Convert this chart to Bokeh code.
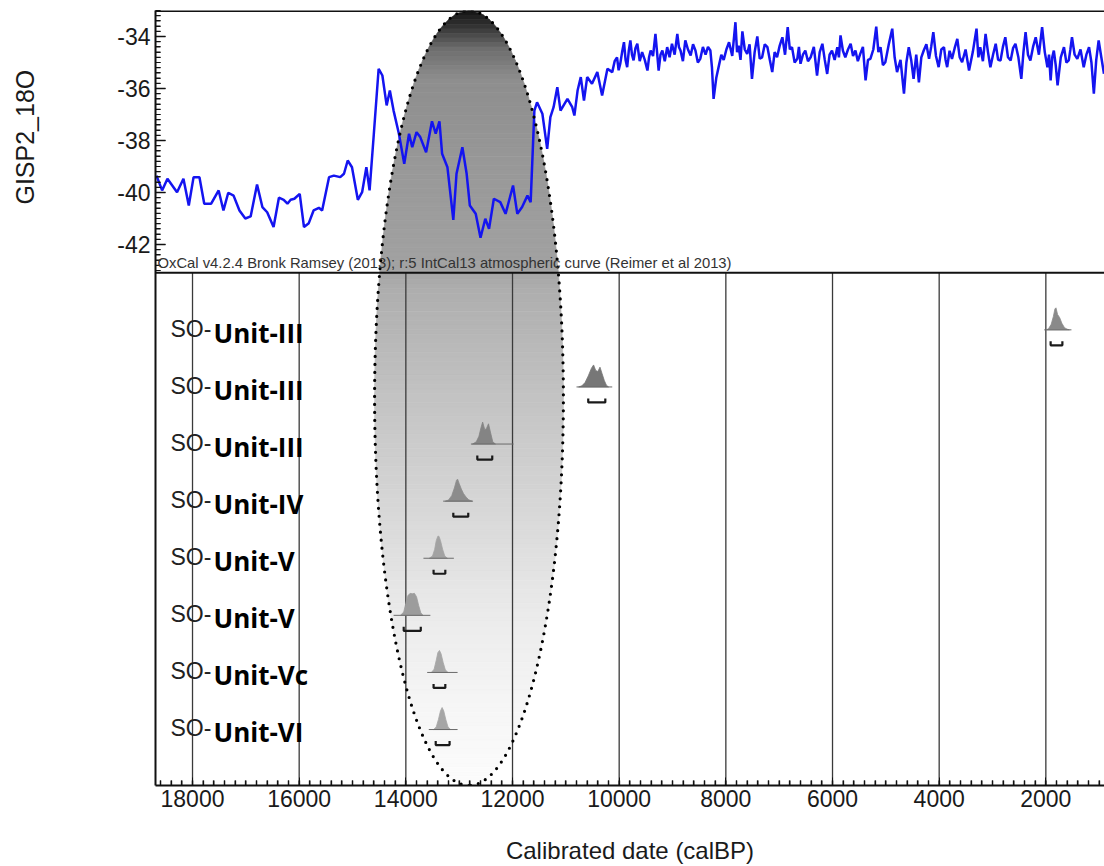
import numpy as np
from bokeh.plotting import figure
from bokeh.layouts import row
from bokeh.models import Range1d, LinearAxis, FixedTicker, Span, Label
from bokeh.core.properties import value
from bokeh.embed import file_html
from bokeh.resources import INLINE

# ---------------- data ----------------
gisp_age = [
    18675, 18570, 18470, 18290, 18170, 18070, 17980, 17870, 17780, 17650,
    17510, 17420, 17330, 17230, 17120, 17010, 16910, 16790, 16690, 16600,
    16480, 16380, 16290, 16220, 16160, 16090, 15990, 15910, 15820, 15730,
    15630, 15570, 15440, 15350, 15230, 15160, 15090, 15010, 14900, 14820,
    14740, 14680, 14600, 14510, 14440, 14360, 14300, 14230, 14130, 14030,
    13940, 13880, 13800, 13730, 13620, 13510, 13440, 13370, 13320, 13220,
    13110, 13050, 12940, 12860, 12800, 12690, 12600, 12510, 12440, 12350,
    12230, 12130, 11990, 11910, 11820, 11720, 11660, 11590, 11540, 11440,
    11350, 11290, 11230, 11160, 11100, 10970, 10880, 10840, 10780, 10720,
    10660, 10600, 10510, 10410, 10320, 10220,
    10130, 10085, 10040, 10010, 9980, 9945, 9910, 9880, 9850, 9820,
    9790, 9760, 9730, 9695, 9660, 9615, 9570, 9520, 9470, 9440,
    9410, 9365, 9320, 9290, 9260, 9225, 9190, 9145, 9100, 9055,
    9010, 8960, 8910, 8880, 8850, 8805, 8760, 8710, 8660, 8615,
    8570, 8525, 8480, 8430, 8380, 8335, 8290, 8260, 8230, 8180,
    8130, 8085, 8040, 7990, 7940, 7880, 7820, 7790, 7760, 7725,
    7690, 7645, 7600, 7555, 7510, 7460, 7410, 7365, 7320, 7270,
    7220, 7175, 7130, 7085, 7040, 6990, 6940, 6890, 6840, 6800,
    6760, 6710, 6660, 6630, 6600, 6555, 6510, 6460, 6410, 6350,
    6290, 6240, 6190, 6145, 6100, 6055, 6010, 5960, 5910, 5880,
    5850, 5805, 5760, 5710, 5660, 5615, 5570, 5525, 5480, 5430,
    5380, 5335, 5290, 5235, 5180, 5140, 5100, 5055, 5010, 4945,
    4880, 4835, 4790, 4725, 4660, 4615, 4570, 4525, 4480, 4430,
    4380, 4335, 4290, 4240, 4190, 4150, 4110, 4060, 4010, 3960,
    3910, 3880, 3850, 3805, 3760, 3710, 3660, 3615, 3570, 3505,
    3440, 3370, 3300, 3265, 3230, 3180, 3130, 3085, 3040, 2990,
    2940, 2895, 2850, 2805, 2760, 2710, 2660, 2615, 2570, 2515,
    2460, 2420, 2380, 2335, 2290, 2240, 2190, 2130, 2070, 2020,
    1970, 1940, 1910, 1880, 1850, 1815, 1780, 1720, 1660, 1615,
    1570, 1540, 1510, 1460, 1410, 1350, 1290, 1240, 1190, 1145,
    1100, 1055, 1010, 960, 910,
]
gisp_d18o = [
    -39.35, -39.92, -39.47, -39.99, -39.47, -40.50, -39.41, -39.41, -40.43, -40.43,
    -39.92, -40.69, -40.01, -40.12, -40.69, -41.00, -40.92, -39.69, -40.56, -40.76,
    -41.33, -40.20, -40.28, -40.43, -40.28, -40.24, -40.05, -41.33, -41.18, -40.69,
    -40.59, -40.69, -39.41, -39.35, -39.41, -39.28, -38.77, -39.03, -40.28, -39.99,
    -39.03, -39.92, -37.74, -35.24, -35.50, -36.65, -36.08, -36.85, -37.74, -38.90,
    -37.74, -38.26, -37.68, -37.87, -38.45, -37.26, -37.74, -37.26, -38.51, -39.03,
    -41.05, -39.28, -38.26, -39.28, -40.50, -40.82, -41.74, -41.01, -41.40, -40.24,
    -40.37, -40.82, -39.73, -40.82, -40.56, -40.12, -40.37, -36.85, -36.53, -36.97,
    -38.32, -37.10, -36.72, -35.95, -36.85, -36.40, -36.72, -37.04, -36.08, -35.56,
    -36.46, -35.56, -35.82, -35.37, -36.27, -35.24,
    -35.37, -34.95, -34.80, -35.30, -35.05, -34.60, -34.22, -34.90, -35.18, -34.55,
    -34.15, -34.70, -34.92, -34.45, -34.28, -34.95, -34.60, -34.90, -35.31, -34.80,
    -34.54, -34.75, -33.90, -34.60, -35.31, -34.70, -34.54, -34.95, -34.41, -34.80,
    -34.28, -34.70, -33.90, -34.40, -34.54, -34.95, -34.15, -34.50, -34.73, -34.30,
    -34.54, -35.00, -34.86, -34.40, -34.70, -34.40, -34.54, -35.20, -36.40, -35.60,
    -35.12, -34.70, -34.90, -34.50, -34.22, -34.75, -33.45, -34.60, -34.35, -34.90,
    -33.80, -34.50, -34.67, -34.30, -35.63, -34.60, -34.00, -34.85, -34.80, -34.30,
    -34.41, -34.90, -35.37, -34.60, -34.80, -34.35, -34.03, -34.70, -33.64, -34.50,
    -34.41, -35.00, -34.86, -34.40, -35.05, -34.70, -34.54, -34.95, -34.80, -34.40,
    -35.50, -34.60, -34.28, -34.90, -35.44, -34.70, -34.54, -34.90, -34.41, -34.80,
    -33.96, -34.55, -34.80, -34.50, -34.28, -34.75, -34.54, -34.95, -34.67, -34.40,
    -35.69, -34.90, -34.86, -34.50, -33.62, -34.60, -34.41, -35.10, -34.99, -34.30,
    -33.70, -34.80, -35.37, -34.90, -36.20, -35.00, -34.41, -34.90, -35.63, -34.70,
    -35.76, -34.80, -34.54, -34.30, -34.86, -34.40, -33.83, -34.75, -35.18, -34.50,
    -34.41, -34.90, -35.18, -34.55, -34.86, -34.45, -34.09, -34.80, -34.99, -34.50,
    -35.31, -34.60, -33.70, -34.80, -34.41, -34.95, -33.90, -34.60, -35.18, -34.70,
    -34.28, -34.90, -34.92, -34.40, -34.03, -34.80, -34.92, -34.45, -34.28, -34.80,
    -35.63, -34.60, -33.83, -34.70, -34.92, -34.40, -34.03, -34.70, -33.64, -34.60,
    -35.18, -34.70, -35.69, -34.80, -34.54, -35.10, -35.88, -34.80, -34.41, -35.00,
    -34.92, -34.50, -34.03, -34.70, -34.86, -34.50, -35.18, -34.70, -34.41, -35.00,
    -36.20, -34.90, -34.15, -34.80, -35.43,
]

sample_prefix = "SO-"
sample_units = ["Unit-III", "Unit-III", "Unit-III", "Unit-IV",
                "Unit-V", "Unit-V", "Unit-Vc", "Unit-VI"]

# calibrated probability distributions (cal BP, relative density)
dist_age = [
    [1990, 1950, 1900, 1860, 1830, 1810, 1780, 1740, 1700, 1650, 1600, 1560],
    [10760, 10700, 10640, 10580, 10520, 10480, 10440, 10400, 10360, 10320, 10280, 10240, 10200],
    [12750, 12680, 12630, 12590, 12560, 12520, 12490, 12450, 12410, 12370, 12320],
    [13260, 13200, 13140, 13090, 13050, 13030, 13000, 12960, 12920, 12870, 12820, 12760],
    [13560, 13500, 13460, 13430, 13400, 13380, 13350, 13310, 13270, 13220],
    [14100, 14040, 14000, 13960, 13920, 13880, 13840, 13800, 13760, 13720, 13680],
    [13520, 13470, 13430, 13400, 13370, 13340, 13300, 13260, 13210],
    [13480, 13430, 13390, 13350, 13320, 13290, 13250, 13210, 13160],
]
dist_dens = [
    [0, 0.05, 0.25, 0.6, 0.95, 1.0, 0.7, 0.55, 0.3, 0.1, 0.03, 0],
    [0, 0.05, 0.2, 0.5, 0.85, 1.0, 0.75, 0.7, 0.9, 0.6, 0.3, 0.08, 0],
    [0, 0.1, 0.35, 0.75, 1.0, 0.65, 0.7, 0.92, 0.5, 0.1, 0],
    [0, 0.05, 0.25, 0.6, 0.95, 1.0, 0.8, 0.55, 0.35, 0.18, 0.06, 0],
    [0, 0.1, 0.4, 0.8, 1.0, 1.0, 0.8, 0.4, 0.1, 0],
    [0, 0.15, 0.55, 0.9, 1.0, 0.98, 1.0, 0.85, 0.45, 0.12, 0],
    [0, 0.15, 0.55, 0.9, 1.0, 0.85, 0.45, 0.12, 0],
    [0, 0.12, 0.45, 0.85, 1.0, 0.85, 0.45, 0.12, 0],
]
# extent of the thin baseline under each distribution
dist_line_from = [2030, 10800, 12780, 13300, 13670, 14230, 13600, 13570]
dist_line_to = [1520, 10130, 11980, 12740, 13100, 13540, 13030, 13030]
# highest-density ranges (brackets)
range_from = [1910, 10580, 12660, 13110, 13480, 14040, 13480, 13440]
range_to = [1690, 10260, 12380, 12830, 13260, 13720, 13260, 13180]

x_major = [18000, 16000, 14000, 12000, 10000, 8000, 6000, 4000, 2000]
y_major = [-34, -36, -38, -40, -42]

# ---------------- layout ----------------
TOTAL_W, H = 1104, 866
LW = 48                      # strip holding the rotated y title
W = TOTAL_W - LW
FRAME_X0 = 155               # page x of frame left edge
BL, BT, BB = FRAME_X0 - LW, 10, 81
FW, FH = W - BL, H - BT - BB
X_LEFT = 18694.0
YR_PER_PX = 18.75
X_RIGHT = X_LEFT - FW * YR_PER_PX
ROW_PX = 57.1
Y_BOTTOM = -0.98
Y_TOP = Y_BOTTOM + FH / ROW_PX
G_TOP = -33.0
G_PX = 26.0
G_BOTTOM = G_TOP - FH / G_PX
SEP_Y = 8.0


def page_x_to_year(px):
    return X_LEFT - (px - FRAME_X0) * YR_PER_PX


FONT = "Liberation Sans"

p = figure(width=W, height=H, output_backend="svg", toolbar_location=None,
           x_range=Range1d(X_LEFT, X_RIGHT), y_range=Range1d(Y_BOTTOM, Y_TOP),
           x_axis_location=None, y_axis_location=None,
           min_border_left=BL, min_border_right=0, min_border_top=BT,
           min_border_bottom=BB)
p.extra_y_ranges = {"gisp": Range1d(G_BOTTOM, G_TOP)}
p.outline_line_color = None
p.xgrid.visible = False
p.ygrid.visible = False
p.background_fill_color = "white"
p.border_fill_color = "white"

# ---------- shaded ellipse (vertical grey gradient) ----------
ell_cx, ell_rx = 12816.0, 1770.0
ell_cy = (Y_TOP + Y_BOTTOM) / 2
ell_ry = (Y_TOP - Y_BOTTOM) / 2
stops_f = [0.0, 0.02, 0.05, 0.09, 0.2, 0.33, 0.36, 0.5, 0.65, 0.78, 0.9, 1.0]
stops_g = [20, 50, 110, 142, 152, 162, 174, 195, 216, 235, 246, 252]
nb = 170
edges = np.linspace(Y_TOP, Y_BOTTOM, nb + 1)


def half_w(y):
    return ell_rx * np.sqrt(np.clip(1 - ((y - ell_cy) / ell_ry) ** 2, 0, 1))


bx, by, bc = [], [], []
for i in range(nb):
    y1, y0 = edges[i], edges[i + 1] - 0.004
    w1, w0 = half_w(y1), half_w(y0)
    ym = (y0 + y1) / 2
    wm = half_w(ym)
    bx.append([ell_cx - w1, ell_cx - wm, ell_cx - w0, ell_cx + w0, ell_cx + wm, ell_cx + w1])
    by.append([y1, ym, y0, y0, ym, y1])
    f = (i + 0.5) / nb
    g = int(round(np.interp(f, stops_f, stops_g)))
    bc.append("#%02x%02x%02x" % (g, g, g))
p.patches(bx, by, fill_color=bc, line_color=bc, line_width=0.6)

# ---------- vertical grid lines of lower panel ----------
p.segment(x0=x_major, x1=x_major, y0=[Y_BOTTOM] * len(x_major), y1=[SEP_Y] * len(x_major),
          line_color="#3a3a3a", line_width=1.3)

# ---------- GISP2 curve ----------
p.line(gisp_age, gisp_d18o, y_range_name="gisp", line_color="#1414f0", line_width=2.5)

# ---------- distributions ----------
DH = 22.0 / ROW_PX
fills = ["#8a8a8a", "#777777", "#848484", "#8c8c8c", "#a2a2a2", "#9c9c9c", "#a6a6a6", "#a6a6a6"]
n_rows = len(sample_units)
for k in range(n_rows):
    base = (n_rows - 1) - k
    ages = dist_age[k]
    dens = dist_dens[k]
    p.patch(ages, [base + d * DH for d in dens], fill_color=fills[k], line_color=fills[k],
            line_width=0.8)
    p.line([dist_line_from[k], dist_line_to[k]], [base, base], line_color="#6a6a6a", line_width=1)
    yb = base - 15.5 / ROW_PX
    yt = yb + 4.0 / ROW_PX
    p.line([range_from[k], range_from[k], range_to[k], range_to[k]], [yt, yb, yb, yt],
           line_color="#1a1a1a", line_width=2.2)

# ---------- row labels ----------
rows_y = [(n_rows - 1) - k for k in range(n_rows)]
p.text(x=[page_x_to_year(170)] * n_rows, y=[r + 0.02 for r in rows_y], text=[sample_prefix] * n_rows,
       text_font=value(FONT), text_font_size="23px", text_color="#222222",
       text_align="left", text_baseline="middle")
p.text(x=[page_x_to_year(213)] * n_rows, y=[r - 0.05 for r in rows_y], text=sample_units,
       text_font=value("Open Sans"), text_font_size="26px", text_font_style="bold",
       text_color="#000000", text_align="left", text_baseline="middle")

# ---------- dotted ellipse outline ----------
t = np.linspace(-np.pi / 2, 1.5 * np.pi, 500)
p.line(ell_cx + ell_rx * np.cos(t), ell_cy + ell_ry * np.sin(t), line_color="#000000",
       line_width=3.2, line_dash="0 8", line_cap="round")

# ---------- frame lines ----------
p.add_layout(Span(location=Y_TOP, dimension="width", line_color="#111111", line_width=3))
p.add_layout(Span(location=SEP_Y, dimension="width", line_color="#111111", line_width=2))

# ---------- axes ----------
x_minor = list(range(18600, 800, -200))
xaxis = LinearAxis(ticker=FixedTicker(ticks=x_major, minor_ticks=x_minor),
                   axis_label="Calibrated date (calBP)")
xaxis.axis_line_width = 2
xaxis.axis_line_color = "#111111"
xaxis.major_tick_in = 8
xaxis.major_tick_out = 0
xaxis.minor_tick_in = 5
xaxis.minor_tick_out = 0
xaxis.major_tick_line_color = "#111111"
xaxis.minor_tick_line_color = "#111111"
xaxis.minor_tick_line_width = 1.3
xaxis.major_label_standoff = 4
xaxis.major_label_text_font = FONT
xaxis.major_label_text_font_size = "23px"
xaxis.major_label_text_color = "#1a1a1a"
xaxis.axis_label_text_font = FONT
xaxis.axis_label_text_font_size = "24px"
xaxis.axis_label_text_font_style = "normal"
xaxis.axis_label_text_color = "#1a1a1a"
xaxis.axis_label_standoff = 27
p.add_layout(xaxis, "below")

y_minor = [round(-33.0 - 0.2 * i, 1) for i in range(51)]
yaxis = LinearAxis(y_range_name="gisp", ticker=FixedTicker(ticks=y_major, minor_ticks=y_minor))
yaxis.major_label_overrides = {v: str(v) for v in y_major}
yaxis.axis_line_width = 2
yaxis.axis_line_color = "#111111"
yaxis.major_tick_in = 10
yaxis.major_tick_out = 0
yaxis.minor_tick_in = 5
yaxis.minor_tick_out = 0
yaxis.major_tick_line_color = "#111111"
yaxis.minor_tick_line_color = "#111111"
yaxis.minor_tick_line_width = 1.2
yaxis.major_label_standoff = 5
yaxis.major_label_text_font = FONT
yaxis.major_label_text_font_size = "23px"
yaxis.major_label_text_color = "#1a1a1a"
p.add_layout(yaxis, "left")

# inward tick marks drawn inside the frame (so they are always visible)
TICK = YR_PER_PX
p.segment(x0=[X_LEFT] * len(y_minor), x1=[X_LEFT - 5 * TICK] * len(y_minor),
          y0=y_minor, y1=y_minor, y_range_name="gisp", line_color="#111111", line_width=1.2)
p.segment(x0=[X_LEFT] * len(y_major), x1=[X_LEFT - 10 * TICK] * len(y_major),
          y0=y_major, y1=y_major, y_range_name="gisp", line_color="#111111", line_width=1.6)
p.segment(x0=x_minor, x1=x_minor, y0=[Y_BOTTOM] * len(x_minor),
          y1=[Y_BOTTOM + 5 / ROW_PX] * len(x_minor), line_color="#111111", line_width=1.2)

p.add_layout(Label(x=page_x_to_year(157), y=SEP_Y + 1.5 / ROW_PX,
                   text="OxCal v4.2.4 Bronk Ramsey (2013); r:5 IntCal13 atmospheric curve (Reimer et al 2013)",
                   text_align="left", text_baseline="bottom", text_font=FONT,
                   text_font_size="14.8px", text_color="#333333"))

# ---------- strip with the rotated y-axis title of the upper panel ----------
lab = figure(width=LW, height=H, output_backend="svg", toolbar_location=None,
             x_range=Range1d(0, LW), y_range=Range1d(0, H),
             x_axis_location=None, y_axis_location=None,
             min_border_left=0, min_border_right=0, min_border_top=0, min_border_bottom=0)
lab.outline_line_color = None
lab.xgrid.visible = False
lab.ygrid.visible = False
lab.add_layout(Label(x=24, y=H - 141.5, text="GISP2_18O", angle=np.pi / 2,
                     text_align="center", text_baseline="middle", text_font=FONT,
                     text_font_size="25px", text_color="#1a1a1a"))

layout = row(lab, p, spacing=0)
open("out.html", "w").write(file_html(layout, INLINE))
